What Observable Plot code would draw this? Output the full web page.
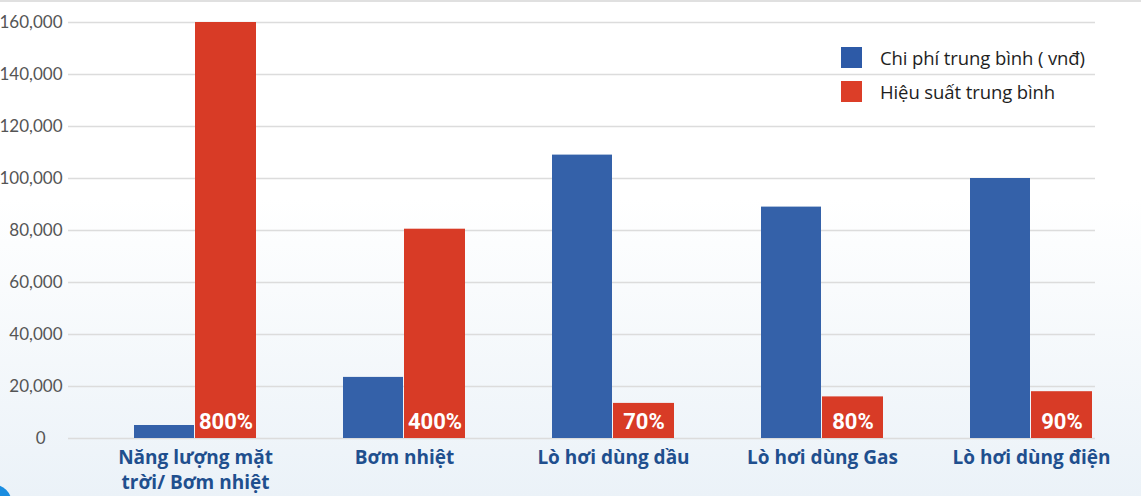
<!DOCTYPE html>
<html><head><meta charset="utf-8">
<script src="https://cdn.jsdelivr.net/npm/d3@7"></script>
<script src="https://cdn.jsdelivr.net/npm/@observablehq/plot@0.6"></script>
<style>
html,body{margin:0;padding:0;background:#fff;}
#wrap{position:relative;width:1141px;height:496px;overflow:hidden;
  background:linear-gradient(to bottom,#ffffff 0%,#ffffff 40%,#ebf2f8 100%);}
#wrap svg{position:absolute;left:0;top:0;}
#topline{position:absolute;left:0;top:0;width:1141px;height:2px;background:#e0e0e0;}
.lg{position:absolute;left:841px;height:21px;display:flex;align-items:center;
  font-family:"Open Sans",sans-serif;font-size:18.5px;color:#1e1e1e;white-space:nowrap;letter-spacing:-0.1px;}
.lg span.sw{display:inline-block;width:21px;height:21px;margin-right:18px;}
#dot{position:absolute;left:-28px;top:484px;width:40px;height:40px;border-radius:50%;background:#1a8de0;}
</style>
</head><body>
<div id="wrap">
  <div id="topline"></div>
  <div id="chart"></div>
  <div class="lg" style="top:47px"><span class="sw" style="background:#2d5aa7"></span>Chi phí trung bình ( vnđ)</div>
  <div class="lg" style="top:81px"><span class="sw" style="background:#dc3e28"></span>Hiệu suất trung bình</div>
  <div id="dot"></div>
</div>
<script>
const categories = ["Năng lượng mặt trời/ Bơm nhiệt", "Bơm nhiệt", "Lò hơi dùng dầu", "Lò hơi dùng Gas", "Lò hơi dùng điện"];
const categoryLabels = ["Năng lượng mặt\ntrời/ Bơm nhiệt", "Bơm nhiệt", "Lò hơi dùng dầu", "Lò hơi dùng Gas", "Lò hơi dùng điện"];
const costValues = [5000, 23500, 109000, 89000, 100000];
const efficiencyValues = [160000, 80500, 13500, 16000, 18000];
const efficiencyLabels = ["800%", "400%", "70%", "80%", "90%"];
const yTicks = [0, 20000, 40000, 60000, 80000, 100000, 120000, 140000, 160000];

const BLUE = "#3461a9", RED = "#d83b26";
const table = categories.map((c, i) => ({
  c, label: categoryLabels[i], cost: costValues[i], eff: efficiencyValues[i], effLabel: efficiencyLabels[i]
}));
const fmt = d3.format(",");

const chart = Plot.plot({
  width: 1141,
  height: 496,
  marginTop: 22,
  marginBottom: 58,
  marginLeft: 68,
  marginRight: 46,
  style: {background: "transparent", fontFamily: "Lato, sans-serif", fontSize: "17px", color: "#555", overflow: "visible"},
  x: {type: "band", domain: categories, range: [132, 1093], paddingInner: 0.418, paddingOuter: 0, axis: null},
  y: {domain: [0, 160000], ticks: yTicks, tickFormat: d => d === 0 ? "0\u2002\u2002" : fmt(d), tickSize: 0, tickPadding: 6, label: null},
  marks: [
    Plot.ruleY(yTicks, {stroke: "#dcdcdc", strokeWidth: 1.5}),
    Plot.barY(table, {x: "c", y: "cost", fill: BLUE, insetRight: 62}),
    Plot.barY(table, {x: "c", y: "eff", fill: RED, insetLeft: 61}),
    Plot.text(table, {x: "c", y: () => 0, text: "effLabel", dx: 30.5, dy: -17, fill: "white",
      fontSize: 22, fontWeight: "bold", fontFamily: "Roboto, sans-serif", letterSpacing: -0.5}),
    Plot.text(table, {x: "c", text: "label", frameAnchor: "bottom", lineAnchor: "top", dy: 7,
      fontSize: 19, fontWeight: "bold", fill: "#1f4f8e", fontFamily: "'Open Sans', sans-serif", lineHeight: 1.35})
  ]
});
document.getElementById("chart").appendChild(chart);
</script>
</body></html>
